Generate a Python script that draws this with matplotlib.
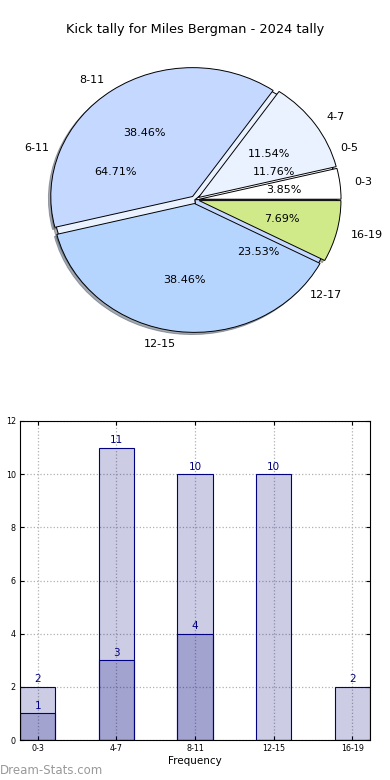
import matplotlib.pyplot as plt
import numpy as np

# Kick tally pies + frequency bars

groups_a = ["0-3", "4-7", "8-11", "12-15", "16-19"]
counts_a = [1, 3, 10, 10, 2]
groups_b = ["0-5", "6-11", "12-17"]
counts_b = [2, 11, 4]

bar_labels = ["0-3", "4-7", "8-11", "12-15", "16-19"]
bar_total = [2, 11, 10, 10, 2]
bar_sub = [1, 3, 4, 0, 0]

pie_colors = ["white", "#eaf2ff", "#c5d8ff", "#b5d5ff", "#d0ea8a"]

fig = plt.figure(figsize=(3.9, 7.8), dpi=100)
fig.text(0.5, 1 - 30/780., "Kick tally for Miles Bergman - 2024 tally",
         ha="center", va="center", fontsize=9.3)

shad = dict(ox=-0.012, oy=-0.012, shade=0.6)
ax1 = fig.add_axes([0.5 - 0.909/2, 0.744 - 0.413/2, 0.909, 0.413])
ax1.pie(counts_b, labels=groups_b, colors=pie_colors[:3], autopct="%.2f%%",
        shadow=shad, wedgeprops=dict(edgecolor="k", linewidth=0.7),
        textprops=dict(fontsize=8))
ax1.pie(counts_a, labels=groups_a, colors=pie_colors, autopct="%.2f%%",
        explode=[0.03]*5, shadow=shad,
        wedgeprops=dict(edgecolor="k", linewidth=0.7),
        textprops=dict(fontsize=8))
ax1.set_aspect("auto")
ax1.set_xlim(-1.25, 1.25)
ax1.set_ylim(-1.25, 1.25)

ax2 = fig.add_axes([20/390., 40/780., 350/390., 319/780.])
x = np.arange(len(bar_labels))
w = 0.45
ax2.bar(x, bar_total, width=w, color=(0, 0, 0.5, 0.2), edgecolor="navy",
        linewidth=0.8, zorder=2)
ax2.bar(x, bar_sub, width=w, color=(0, 0, 0.5, 0.2), edgecolor="navy",
        linewidth=0.8, zorder=2)
for xi, v in zip(x, bar_total):
    ax2.text(xi, v + 0.1, str(v), ha="center", va="bottom", color="navy",
             fontsize=7.5)
for xi, v in zip(x, bar_sub):
    if v > 0:
        ax2.text(xi, v + 0.1, str(v), ha="center", va="bottom", color="navy",
                 fontsize=7.5)

ax2.set_xlim(-w/2, len(bar_labels) - 1 + w/2)
ax2.set_ylim(0, 12)
ax2.set_xticks(x)
ax2.set_xticklabels(bar_labels)
ax2.set_yticks(range(0, 13, 2))
ax2.tick_params(labelsize=5.8, length=3, direction="in", top=True, right=True,
                pad=3)
ax2.grid(True, linestyle=":", color="#b0b0b0", linewidth=0.9, zorder=0)
ax2.set_axisbelow(True)
ax2.set_xlabel("Frequency", fontsize=7.5, labelpad=2)
ax2.set_ylabel("Stat Intervals", fontsize=7.5, labelpad=4)

fig.text(0.0, 1 - 770/780., "Dream-Stats.com", ha="left", va="center",
         fontsize=8.5, color="#999999")

plt.savefig("out.png", dpi=100)
